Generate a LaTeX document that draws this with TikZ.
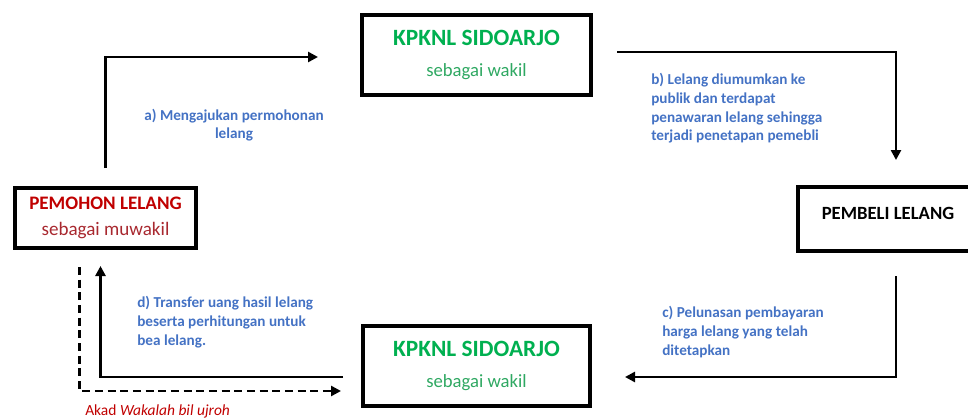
\documentclass[tikz,border=0pt]{standalone}
\usepackage{fontspec}
\setmainfont{Carlito}
\usepackage{xcolor}
\usetikzlibrary{arrows.meta,calc}

\definecolor{kgreen}{HTML}{00B050}
\definecolor{kgreenlt}{HTML}{2FA862}
\definecolor{kred}{HTML}{C00000}
\definecolor{kredlt}{HTML}{A8282F}
\definecolor{kblue}{HTML}{4472C4}

\begin{document}
\begin{tikzpicture}[
    x=0.75pt, y=0.75pt,
    box/.style={draw, line width=3pt, align=center, inner sep=0pt},
    flow/.style={line width=2pt, -{Triangle[length=7.5pt,width=7.5pt]}},
    note/.style={text=kblue, font=\fontsize{11.4}{14}\selectfont\bfseries, align=left, inner sep=0pt},
    % every node/.style={draw}
]
    \useasboundingbox (0,0) rectangle (968,419);

    \node[box, minimum width=171.75pt, minimum height=60pt, text=kgreen,
        font=\fontsize{14}{23}\selectfont] (kpknlA) at (476.5,364)
        {{\fontsize{17.5}{23}\selectfont\bfseries KPKNL SIDOARJO}\\\textcolor{kgreenlt}{sebagai wakil}};
    \node[box, minimum width=170.25pt, minimum height=60pt, text=kgreen,
        font=\fontsize{14}{23}\selectfont] (kpknlB) at (476.5,53)
        {{\fontsize{17.5}{23}\selectfont\bfseries KPKNL SIDOARJO}\\\textcolor{kgreenlt}{sebagai wakil}};
    \node[box, minimum width=135.75pt, minimum height=45pt, text=kred,
        font=\fontsize{14.3}{19.5}\selectfont] (pemohon) at (105.5,201)
        {{\bfseries PEMOHON LELANG}\\\textcolor{kredlt}{sebagai muwakil}};
    \node[box, minimum width=135pt, minimum height=48pt,
        font=\fontsize{14}{17}\selectfont\bfseries] (pembeli) at (888,200)
        {\raisebox{9pt}{PEMBELI LELANG}};

    % a) .. d)
    \draw[flow] ($(pemohon.north)+(0,18)$) |- ($(kpknlA.west)+(-42,-2)$);
    \draw[flow] ($(kpknlA.east)+(24,3)$) -| ($(pembeli.north)+(8,25)$);
    \draw[flow] ($(pembeli.south)+(8,-23)$) |- ($(kpknlB.east)+(33,-11)$);
    \draw[flow] ($(kpknlB.west)+(-18,-11)$) -| ($(pemohon.south)+(-5,-16)$);
    \draw[flow, dash pattern=on 6pt off 3.5pt] ($(pemohon.south)+(-26,-17)$) |- ($(kpknlB.west)+(-20,-25)$);

    \node[note, align=center] (labA) at (234,294) {a) Mengajukan permohonan\\lelang};
    \node[note, anchor=west] (labB) at (651,310.5)
        {b) Lelang diumumkan ke\\publik dan terdapat\\penawaran lelang sehingga\\terjadi penetapan pemebli};
    \node[note, anchor=west] (labC) at (662,87)
        {c) Pelunasan pembayaran\\harga lelang yang telah\\ditetapkan};
    \node[note, anchor=west] (labD) at (137,97)
        {d) Transfer uang hasil lelang\\beserta perhitungan untuk\\bea lelang.};
    \node[anchor=west, inner sep=0pt, text=kred, font=\fontsize{11.6}{14}\selectfont] (akad) at (85,8)
        {Akad \textit{Wakalah bil ujroh}};


\end{tikzpicture}
\end{document}
